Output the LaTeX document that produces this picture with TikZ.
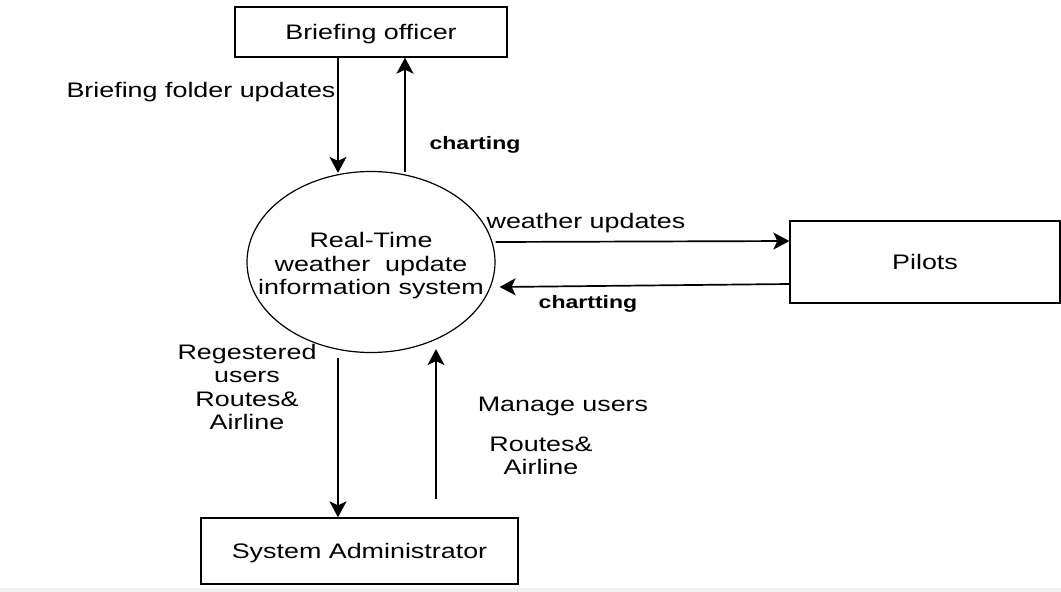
\documentclass[tikz,border=0pt]{standalone}
\usepackage{fontspec}
\setmainfont{Liberation Sans}[FakeStretch=1.28]
\usetikzlibrary{arrows.meta,shapes.geometric}

\tikzset{
  entity/.style={draw, line width=1.3pt, rectangle, inner sep=0pt,
                 text height=15pt, text depth=0pt,
                 font=\fontsize{21}{23.5}\selectfont},
  process/.style={draw, line width=1.2pt, ellipse, inner sep=0pt,
                  minimum width=248pt, minimum height=181pt},
  flow/.style={line width=1.7pt, -{Stealth[length=16pt,width=17pt,inset=4pt]}},
  lbl/.style={inner sep=0pt, anchor=base, font=\fontsize{21}{23.5}\selectfont},
  lblbold/.style={inner sep=0pt, anchor=base, font=\fontsize{18}{21}\selectfont\bfseries},
  lblstack/.style={inner sep=0pt, align=center, font=\fontsize{21}{23.5}\selectfont},
}

\begin{document}
\begin{tikzpicture}[x=1pt, y=-1pt]
  \path[use as bounding box] (0,0) rectangle (1061,592);
  \fill[black!6] (0,588) rectangle (1061,592);

  % external entities and the central process
  \node[entity, minimum width=272pt, minimum height=50pt] (bo) at (371,32) {Briefing officer};
  \node[entity, minimum width=270pt, minimum height=82pt] (pil) at (925,262) {Pilots};
  \node[entity, minimum width=317pt, minimum height=66pt] (sys) at (359.5,551) {System Administrator};
  \node[process] (rt) at (371,262) {};
  \node[lblstack] (rtlabel) at ([yshift=-4pt]rt.center) {Real-Time\\weather\ \ update\\information system};

  % data flows
  \coordinate (xdn) at (338,0);
  \coordinate (xup) at (405,0);
  \coordinate (xdn2) at (338,0);
  \coordinate (xup2) at (436,0);
  \draw[flow] (bo.south -| xdn) -- ([yshift=-2pt]rt.north -| xdn);
  \draw[flow] ([yshift=-1pt]rt.north -| xup) -- (bo.south -| xup);
  \draw[flow] ([yshift=20pt]rt.east) -- ([yshift=21pt]pil.west);
  \draw[flow] ([yshift=-22pt]pil.west) -- ([xshift=4pt,yshift=-25pt]rt.east);
  \draw[flow] ([yshift=-5pt]rt.south -| xdn2) -- (sys.north -| xdn2);
  \draw[flow] ([yshift=18pt]sys.north -| xup2) -- ([yshift=4pt]rt.south -| xup2);

  % flow labels
  \node[lbl] (l1) at (201,97) {Briefing folder updates};
  \node[lblbold] (l2) at (475,149) {charting};
  \node[lbl] (l3) at (586,228) {weather updates};
  \node[lblbold] (l4) at (588,308) {chartting};
  \node[lblstack] (l5) at (247,387) {Regestered\\users\\Routes\&\\Airline};
  \node[lbl] (l6) at (563,411) {Manage users};
  \node[lblstack] (l7) at (541,456) {Routes\&\\Airline};
\end{tikzpicture}
\end{document}
